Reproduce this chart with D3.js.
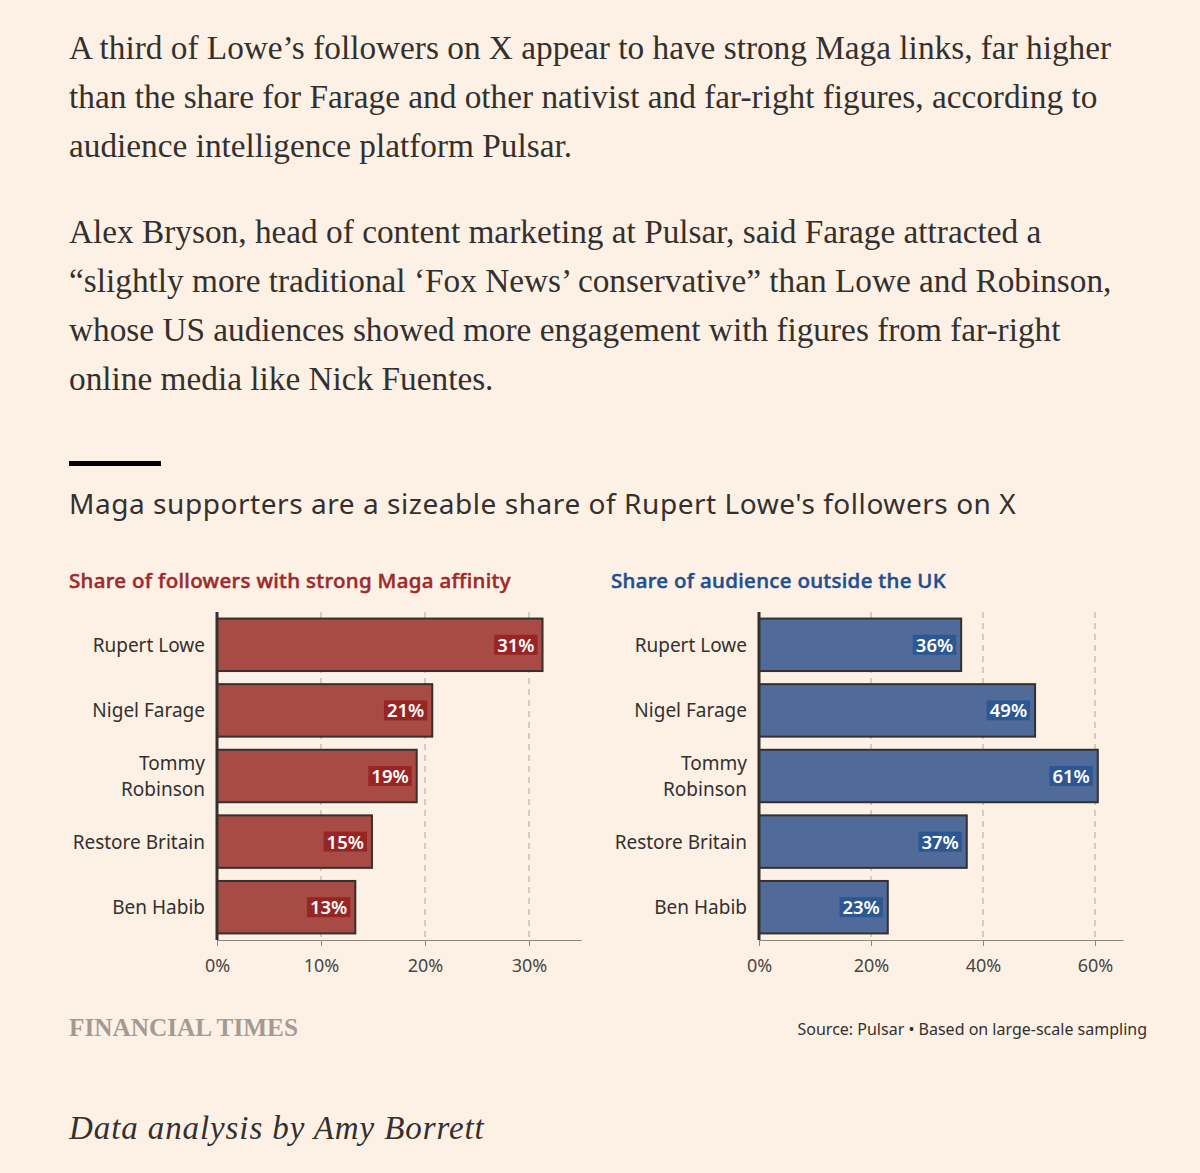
<!DOCTYPE html>
<html>
<head>
<meta charset="utf-8">
<script src="https://cdn.jsdelivr.net/npm/d3@7"></script>
<style>
  html, body { margin: 0; padding: 0; background: #fdf1e6; }
  svg { display: block; }
</style>
</head>
<body>
<div id="chart"></div>
<script>
// data
const names = ["Rupert Lowe", "Nigel Farage", "Tommy Robinson", "Restore Britain", "Ben Habib"];
const magaShare = [31.3, 20.7, 19.2, 14.9, 13.3];
const outsideUK = [36.1, 49.3, 60.5, 37.1, 23.0];
const magaTicks = [0, 10, 20, 30];
const outsideTicks = [0, 20, 40, 60];

const intro = [
  "A third of Lowe\u2019s followers on X appear to have strong Maga links, far higher",
  "than the share for Farage and other nativist and far-right figures, according to",
  "audience intelligence platform Pulsar."
];
const quote = [
  "Alex Bryson, head of content marketing at Pulsar, said Farage attracted a",
  "\u201cslightly more traditional \u2018Fox News\u2019 conservative\u201d than Lowe and Robinson,",
  "whose US audiences showed more engagement with figures from far-right",
  "online media like Nick Fuentes."
];
const title = "Maga supporters are a sizeable share of Rupert Lowe's followers on X";
const source = "Source: Pulsar \u2022 Based on large-scale sampling";

const W = 1200, H = 1173;
const ink = "#33302e";
const serif = "'Liberation Serif', serif";
const sans = "'Noto Sans', Lato, sans-serif";

const svg = d3.select("#chart").append("svg")
  .attr("width", W).attr("height", H);

svg.append("rect").attr("width", W).attr("height", H).attr("fill", "#fdf1e6");

// body paragraphs
function para(lines, y0) {
  svg.append("g").selectAll("text")
    .data(lines)
    .join("text")
    .attr("x", 69)
    .attr("y", (d, i) => y0 + i * 49)
    .attr("font-family", serif)
    .attr("font-size", 33.3)
    .attr("fill", ink)
    .text(d => d);
}
para(intro, 59);
para(quote, 243);

// title block
svg.append("rect").attr("x", 69).attr("y", 461).attr("width", 92).attr("height", 5).attr("fill", "#000");
svg.append("text")
  .attr("x", 69).attr("y", 514)
  .attr("font-family", sans).attr("font-size", 28)
  .attr("letter-spacing", 0.55)
  .attr("fill", ink)
  .text(title);

const yBand = d3.scaleBand()
  .domain(names)
  .range([612, 940])
  .paddingInner(0.2)
  .paddingOuter(0.1);

function panel(cfg) {
  const g = svg.append("g");
  const x = d3.scaleLinear().domain(cfg.domain).range(cfg.range);

  g.append("text")
    .attr("x", cfg.subX).attr("y", 588)
    .attr("font-family", sans).attr("font-size", 20.5).attr("font-weight", 500)
    .attr("letter-spacing", 0.3)
    .attr("stroke", cfg.subColor).attr("stroke-width", 0.5)
    .attr("fill", cfg.subColor)
    .text(cfg.subtitle);

  // dashed grid
  g.append("g").selectAll("line")
    .data(cfg.ticks.filter(t => t > 0))
    .join("line")
    .attr("x1", d => x(d)).attr("x2", d => x(d))
    .attr("y1", 612).attr("y2", 940)
    .attr("stroke", "#c9bfb5").attr("stroke-width", 1.5)
    .attr("stroke-dasharray", "6,5");

  // bottom axis
  const axis = g.append("g")
    .attr("transform", "translate(0,940)")
    .call(d3.axisBottom(x).tickValues(cfg.ticks).tickFormat(d => d + "%").tickSize(6).tickSizeOuter(0));
  axis.select(".domain").attr("stroke", "#8f867e").attr("stroke-width", 1.2);
  axis.selectAll(".tick line").attr("stroke", "#8f867e");
  axis.selectAll(".tick text")
    .attr("font-family", sans).attr("font-size", 18)
    .attr("fill", "#4a4541").attr("dy", "1.25em");

  // bars
  g.append("g").selectAll("rect")
    .data(names)
    .join("rect")
    .attr("x", x(0))
    .attr("y", d => yBand(d))
    .attr("width", (d, i) => x(cfg.values[i]) - x(0))
    .attr("height", yBand.bandwidth())
    .attr("fill", cfg.fill)
    .attr("stroke", ink).attr("stroke-width", 2);

  // zero line
  g.append("line")
    .attr("x1", x(0)).attr("x2", x(0))
    .attr("y1", 612).attr("y2", 940)
    .attr("stroke", ink).attr("stroke-width", 3);

  // category labels
  const lab = g.append("g").selectAll("text")
    .data(names)
    .join("text")
    .attr("text-anchor", "end")
    .attr("font-family", sans).attr("font-size", 19)
    .attr("fill", ink);
  lab.each(function (d) {
    const t = d3.select(this);
    const cy = yBand(d) + yBand.bandwidth() / 2;
    const lines = d === "Tommy Robinson" ? ["Tommy", "Robinson"] : [d];
    lines.forEach((l, k) => {
      t.append("tspan")
        .attr("x", x(0) - 12)
        .attr("y", cy + 7 + (k - (lines.length - 1) / 2) * 26)
        .text(l);
    });
  });

  // value labels with highlight
  const vals = g.append("g");
  names.forEach((d, i) => {
    const cy = yBand(d) + yBand.bandwidth() / 2;
    const bg = vals.append("rect").attr("fill", cfg.labelBg);
    const t = vals.append("text")
      .attr("x", x(cfg.values[i]) - 8)
      .attr("y", cy + 7)
      .attr("text-anchor", "end")
      .attr("font-family", sans).attr("font-size", 18.5).attr("font-weight", 600)
      .attr("fill", "#fff")
      .text(Math.round(cfg.values[i]) + "%");
    const b = t.node().getBBox();
    bg.attr("x", b.x - 3).attr("y", b.y + 3).attr("width", b.width + 6).attr("height", b.height - 5);
  });
}

panel({
  values: magaShare, domain: [0, 35], range: [217, 581], ticks: magaTicks,
  subtitle: "Share of followers with strong Maga affinity", subX: 69,
  subColor: "#9e2a2b", fill: "#a84b45", labelBg: "#982523"
});
panel({
  values: outsideUK, domain: [0, 65], range: [759, 1123], ticks: outsideTicks,
  subtitle: "Share of audience outside the UK", subX: 611,
  subColor: "#1e4f8f", fill: "#506b99", labelBg: "#2c5793"
});

// footer
svg.append("text")
  .attr("x", 69).attr("y", 1036)
  .attr("font-family", serif).attr("font-size", 25).attr("font-weight", 700)
  .attr("fill", "#a39b93")
  .attr("textLength", 229).attr("lengthAdjust", "spacingAndGlyphs")
  .text("FINANCIAL TIMES");
svg.append("text")
  .attr("x", 1147).attr("y", 1035)
  .attr("text-anchor", "end")
  .attr("font-family", sans).attr("font-size", 16)
  .attr("fill", ink)
  .text(source);

svg.append("text")
  .attr("x", 69).attr("y", 1139)
  .attr("font-family", serif).attr("font-size", 33).attr("font-style", "italic")
  .attr("letter-spacing", 0.9)
  .attr("fill", ink)
  .text("Data analysis by Amy Borrett");
</script>
</body>
</html>
